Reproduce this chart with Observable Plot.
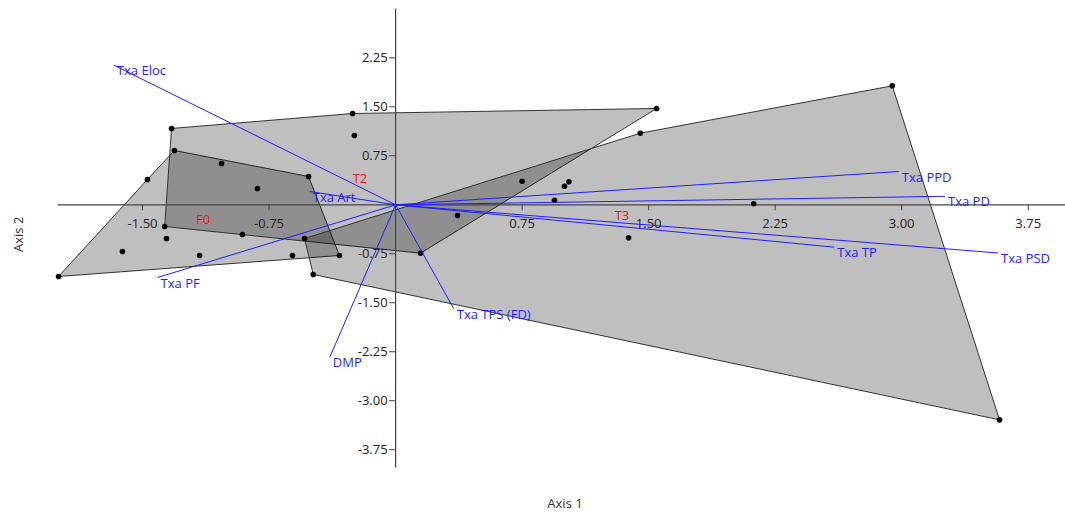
<!DOCTYPE html>
<html>
<head>
<meta charset="utf-8">
<script src="https://cdn.jsdelivr.net/npm/d3@7"></script>
<script src="https://cdn.jsdelivr.net/npm/@observablehq/plot@0.6"></script>
<style>
  html, body { margin: 0; padding: 0; background: #fff; }
  #chart svg { display: block; }
</style>
</head>
<body>
<div id="chart"></div>
<script>
// ---- Data ----
const groupNames = ["F0", "T2", "T3"];

const f0X = [-1.998, -1.471, -1.311, -1.032, -0.516, -0.333, -1.619, -1.162, -0.611, -1.358];
const f0Y = [-1.098,  0.387,  0.832,  0.632,  0.433, -0.776, -0.715, -0.776, -0.776, -0.516];

const t2X = [-1.328, -0.255, 1.547,  0.148, -1.369, -0.244, -0.908,  0.367, 0.750, -0.819];
const t2Y = [ 1.169,  1.398, 1.475, -0.741, -0.332,  1.062, -0.455, -0.164, 0.361,  0.250];

const t3X = [-0.540, 1.450, 2.944,  3.580, -0.488, 1.001, 1.027, 0.942, 2.123,  1.381];
const t3Y = [-0.516, 1.096, 1.822, -3.293, -1.067, 0.285, 0.352, 0.070, 0.015, -0.505];

const vectorNames = ["Txa Eloc", "Txa Art", "Txa PF", "DMP", "Txa TPS (FD)", "Txa PPD", "Txa PD", "Txa TP", "Txa PSD"];
const vectorX = [-1.670, -0.509, -1.411, -0.390, 0.345, 2.983, 3.257, 2.600, 3.571];
const vectorY = [ 2.138,  0.204, -1.113, -2.334, -1.593, 0.510, 0.130, -0.649, -0.738];

const xTicks = [-1.5, -0.75, 0.75, 1.5, 2.25, 3.0, 3.75];
const xTickLabels = ["-1.50", "-0.75", "0.75", "1.50", "2.25", "3.00", "3.75"];
const yTicks = [2.25, 1.5, 0.75, -0.75, -1.5, -2.25, -3.0, -3.75];
const yTickLabels = ["2.25", "1.50", "0.75", "-0.75", "-1.50", "-2.25", "-3.00", "-3.75"];

const xTitle = "Axis 1";
const yTitle = "Axis 2";

// ---- Build tables ----
const groupXs = [f0X, t2X, t3X];
const groupYs = [f0Y, t2Y, t3Y];
const points = [];
groupNames.forEach((g, gi) => {
  groupXs[gi].forEach((x, i) => points.push({group: g, x, y: groupYs[gi][i]}));
});
const centroids = groupNames.map((g, gi) => ({
  group: g,
  x: d3.mean(groupXs[gi]),
  y: d3.mean(groupYs[gi])
}));
const vectors = vectorNames.map((name, i) => ({name, x: vectorX[i], y: vectorY[i]}));
const xTickData = xTicks.map((v, i) => ({v, label: xTickLabels[i]}));
const yTickData = yTicks.map((v, i) => ({v, label: yTickLabels[i]}));

const xDomain = [-2.0, 4.0];
const yDomain = [-4.03, 3.0];
const xPx = 168.7, yPx = 65.3; // pixels per unit
const tickLenX = 6 / yPx;   // tick length in y units (for x ticks)
const tickLenY = 6 / xPx;   // tick length in x units (for y ticks)

const axisColor = "#444";
const textColor = "#222";
const blue = "#1f1fff";

const chart = Plot.plot({
  width: 1065,
  height: 513,
  margin: 0,
  style: {fontFamily: "'Segoe UI', 'Open Sans', 'Noto Sans', sans-serif", fontSize: "13px", background: "#fff", overflow: "visible"},
  x: {domain: xDomain, range: [395.1 - 2.0 * xPx, 395.1 + 4.0 * xPx], axis: null},
  y: {domain: yDomain, range: [204.3 + 4.03 * yPx, 204.3 - 3.0 * yPx], axis: null},
  marks: [
    // convex hulls
    Plot.hull(points, {x: "x", y: "y", z: "group", fill: "black", fillOpacity: 0.25, stroke: "#333", strokeWidth: 1}),
    // axes through origin
    Plot.ruleY([0], {x1: xDomain[0], x2: xDomain[1], stroke: axisColor, strokeWidth: 1.2}),
    Plot.ruleX([0], {y1: yDomain[0], y2: yDomain[1], stroke: axisColor, strokeWidth: 1.2}),
    // x ticks
    Plot.ruleX(xTickData, {x: "v", y1: 0, y2: -tickLenX, stroke: axisColor}),
    Plot.text(xTickData, {x: "v", y: () => 0, text: "label", dy: 19, fill: textColor, fontSize: 13}),
    // y ticks
    Plot.ruleY(yTickData, {y: "v", x1: 0, x2: -tickLenY, stroke: axisColor}),
    Plot.text(yTickData, {y: "v", x: () => 0, text: "label", dx: -8, textAnchor: "end", fill: textColor, fontSize: 13}),
    // points
    Plot.dot(points, {x: "x", y: "y", r: 2.8, fill: "black", stroke: "none"}),
    // biplot vectors
    Plot.link(vectors, {x1: () => 0, y1: () => 0, x2: "x", y2: "y", stroke: blue, strokeWidth: 1}),
    Plot.text(vectors, {x: "x", y: "y", text: "name", textAnchor: "start", dx: 3, dy: 6, fill: blue, fontSize: 13}),
    // group labels
    Plot.text(centroids, {x: "x", y: "y", text: "group", fill: "#f01818", fontSize: 13}),
    // axis titles
    Plot.text([xTitle], {frameAnchor: "bottom", text: d => d, dx: 32, dy: -6, fill: "#333", fontSize: 13}),
    Plot.text([yTitle], {frameAnchor: "left", text: d => d, rotate: -90, dx: 18, dy: -5, fill: "#333", fontSize: 13})
  ]
});
document.getElementById("chart").appendChild(chart);
</script>
</body>
</html>
